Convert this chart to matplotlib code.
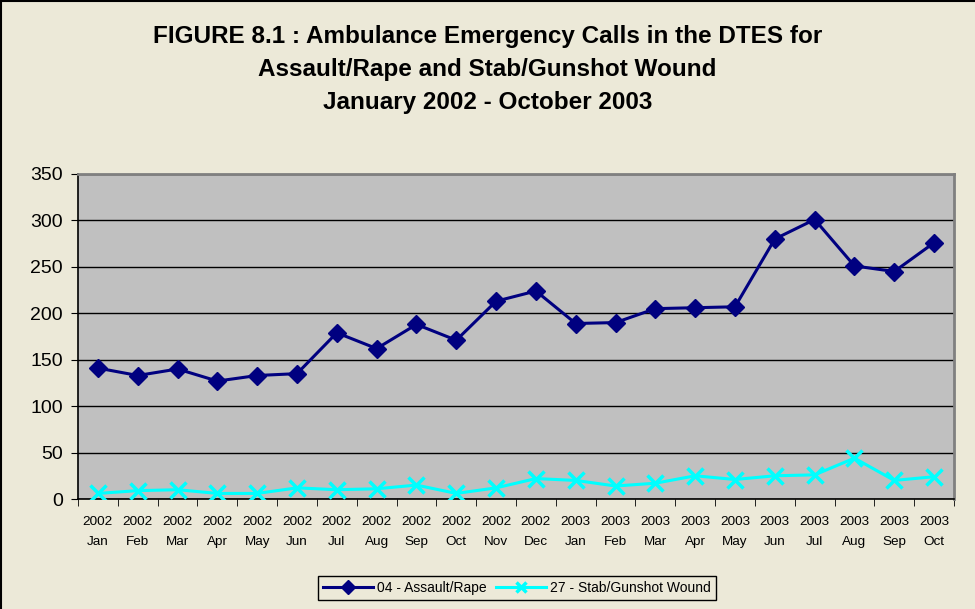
import numpy as np
import matplotlib
matplotlib.use("Agg")
from matplotlib import pyplot as plt
from matplotlib.lines import Line2D

plt.rcParams['font.family'] = ['Liberation Sans', 'DejaVu Sans']

years = ['2002'] * 12 + ['2003'] * 10
months = ['Jan', 'Feb', 'Mar', 'Apr', 'May', 'Jun', 'Jul', 'Aug', 'Sep', 'Oct', 'Nov', 'Dec',
          'Jan', 'Feb', 'Mar', 'Apr', 'May', 'Jun', 'Jul', 'Aug', 'Sep', 'Oct']
assault = [141, 133, 140, 127, 133, 135, 179, 162, 188, 171, 213, 224,
           189, 190, 205, 206, 207, 280, 301, 251, 245, 276]
stab = [6, 9, 10, 6, 6, 12, 10, 11, 15, 6, 12, 22,
        20, 14, 17, 25, 21, 25, 26, 44, 20, 24]

bg = '#ECE9D8'
fig = plt.figure(figsize=(9.75, 6.09), dpi=100, facecolor=bg)
ax = fig.add_axes([78 / 975, 110 / 609, 876 / 975, 325 / 609])
ax.set_facecolor('#C0C0C0')

x = np.arange(len(months))
ax.plot(x, assault, color='#000080', lw=2.2, marker='D', markersize=9.5,
        label='04 - Assault/Rape', zorder=3)
ax.plot(x, stab, color='#00FFFF', lw=2.2, marker='x', markersize=11, mew=2.5,
        label='27 - Stab/Gunshot Wound', zorder=3)

ax.set_xlim(-0.5, len(months) - 0.5)
ax.set_ylim(0, 350)
ax.set_yticks(range(0, 351, 50))
ax.yaxis.grid(True, color='black', lw=1)
ax.set_axisbelow(True)

ax.set_xticks(x)
ax.set_xticklabels([y + '\n' + m for y, m in zip(years, months)], fontsize=9.7,
                   linespacing=1.8)
ax.set_xticks(np.arange(-0.5, len(months)), minor=True)
ax.tick_params(axis='x', which='major', length=0, pad=12.5)
ax.tick_params(axis='x', which='minor', length=5, direction='out', color='black')
ax.tick_params(axis='y', length=5, direction='out', labelsize=14, pad=6)

for side in ['top', 'right']:
    ax.spines[side].set_color('#808080')
    ax.spines[side].set_linewidth(2)
for side in ['left', 'bottom']:
    ax.spines[side].set_color('black')
    ax.spines[side].set_linewidth(1.2)

fig.text(0.5, 1 - 43 / 609, 'FIGURE 8.1 : Ambulance Emergency Calls in the DTES for',
         ha='center', va='baseline', fontsize=17.5, fontweight='bold')
fig.text(0.5, 1 - 76 / 609, 'Assault/Rape and Stab/Gunshot Wound',
         ha='center', va='baseline', fontsize=17.5, fontweight='bold')
fig.text(0.5, 1 - 109 / 609, 'January 2002 - October 2003',
         ha='center', va='baseline', fontsize=17.5, fontweight='bold')

leg = fig.legend(loc='center', bbox_to_anchor=(517 / 975, 1 - 588 / 609), ncol=2,
                 fontsize=10, frameon=True, fancybox=False, edgecolor='black',
                 facecolor=bg, framealpha=1, handlelength=3.6, columnspacing=0.65,
                 borderpad=0.35, handletextpad=0.3, borderaxespad=0)
leg.get_frame().set_linewidth(1)
for h in leg.legend_handles:
    h.set_markersize(7)

# chart border only shows on the top and left edges
fig.lines.append(Line2D([0.0015, 0.0015], [0, 0.999], transform=fig.transFigure,
                        color='black', lw=1.5))
fig.lines.append(Line2D([0, 1], [0.999, 0.999], transform=fig.transFigure,
                        color='black', lw=1.5))

fig.savefig('out.png', dpi=100, facecolor=bg)
